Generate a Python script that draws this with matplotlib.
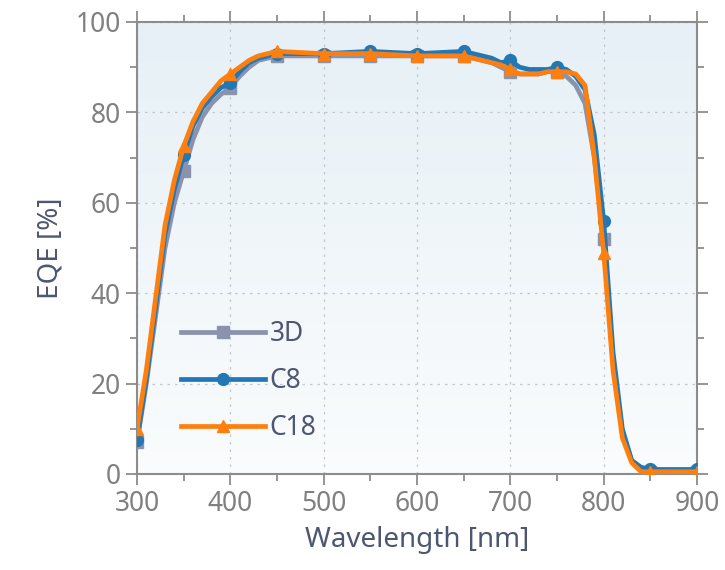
import numpy as np
import matplotlib
matplotlib.use('Agg')
import matplotlib.pyplot as plt
from matplotlib.ticker import MultipleLocator

plt.rcParams['font.family'] = ['Noto Sans', 'DejaVu Sans']

# wavelength grid (nm)
wl = [300, 310, 320, 330, 340, 350, 360, 370, 380, 390,
      400, 410, 420, 430, 440, 450, 500, 550, 600, 650,
      660, 670, 680, 690, 700, 710, 720, 730, 740, 750,
      760, 770, 780, 790, 800, 810, 820, 830, 840, 850,
      900]

eqe_3d = [7, 20, 35, 50, 60, 67, 74, 79, 82, 84,
          85.5, 88, 90, 91.5, 92, 92.5, 92.5, 92.5, 92.5, 92.5,
          92, 91.5, 91, 90, 89, 88.5, 88.5, 88.5, 89, 89,
          88, 86, 82, 70, 52, 25, 9, 3, 1, 0.5,
          0.5]

eqe_c8 = [7.5, 21, 37, 53, 63, 70.5, 77, 81, 83.5, 85.5,
          86.5, 89, 91, 92, 92.5, 93, 93, 93.5, 93, 93.5,
          93, 92.5, 92, 91, 91.5, 90, 89.5, 89.5, 89.5, 90,
          89.5, 88, 85, 75, 56, 27, 10, 3, 1.5, 1,
          1]

eqe_c18 = [10, 23, 39, 55, 65, 72.5, 78, 82, 84.5, 87,
           88.5, 90, 91.5, 92.5, 93, 93.5, 93, 93, 92.5, 92.5,
           92, 91.5, 91, 90.5, 89.5, 88.5, 88.5, 88.5, 89, 89,
           89, 88.5, 86, 70, 49, 23, 8, 2.5, 0.5, 0.5,
           0.5]

series = [
    ('3D', eqe_3d, '#8a92ae', 's'),
    ('C8', eqe_c8, '#2277b4', 'o'),
    ('C18', eqe_c18, '#ff7f0e', '^'),
]

fig = plt.figure(figsize=(7.25, 5.7), dpi=100)
ax = fig.add_axes([137 / 725, 96 / 570, 560 / 725, 452 / 570])

# soft blue gradient background, bluish at the top
grad = np.linspace(0, 1, 256).reshape(-1, 1)
cmap = matplotlib.colors.LinearSegmentedColormap.from_list('bg', ['#e6f0f6', '#fafcfd'])
ax.imshow(grad, extent=[0, 1, 0, 1], origin='upper', transform=ax.transAxes,
          cmap=cmap, aspect='auto', zorder=0)

mark_idx = [i for i, w in enumerate(wl) if w % 50 == 0]
for name, vals, col, mk in series:
    ax.plot(wl, vals, color=col, lw=3.4, marker=mk, markersize=8.5,
            markevery=mark_idx, label=name, zorder=3)

ax.set_xlim(300, 900)
ax.set_ylim(0, 100)
ax.xaxis.set_major_locator(MultipleLocator(100))
ax.xaxis.set_minor_locator(MultipleLocator(50))
ax.yaxis.set_major_locator(MultipleLocator(20))
ax.yaxis.set_minor_locator(MultipleLocator(10))

ax.grid(True, which='major', color='#c2c6cd', linestyle=(0, (2, 4)), lw=0.9, zorder=1)
ax.set_axisbelow(True)

for s in ax.spines.values():
    s.set_color('#8c8c8c')
    s.set_linewidth(1.5)

ax.tick_params(which='both', top=True, right=True, direction='out',
               color='#8c8c8c', width=1.3, labelsize=19, labelcolor='#808080')
ax.tick_params(which='major', length=8)
ax.tick_params(which='minor', length=5)

ax.set_xlabel('Wavelength [nm]', fontsize=20, color='#4d5672', labelpad=6)
ax.set_ylabel('EQE [%]', fontsize=20, color='#4d5672', labelpad=8)

leg = ax.legend(loc='lower left', bbox_to_anchor=(0.036, 0.018), frameon=False,
                fontsize=19, handlelength=3.2, labelspacing=0.72, handletextpad=0.15)
for t in leg.get_texts():
    t.set_color('#4d5672')

fig.savefig('out.png', dpi=100)
